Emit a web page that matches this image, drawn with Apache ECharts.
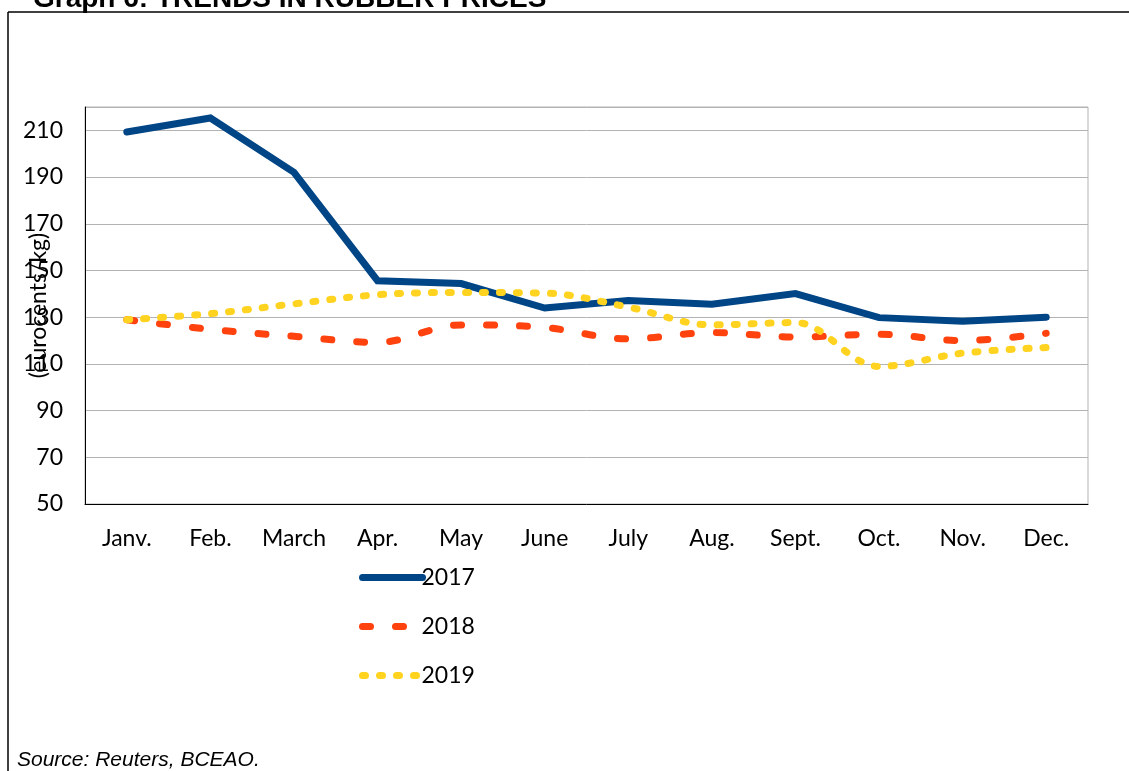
<!DOCTYPE html>
<html>
<head>
<meta charset="utf-8">
<script src="https://cdn.jsdelivr.net/npm/echarts@6/dist/echarts.min.js"></script>
<style>
html,body{margin:0;padding:0;background:#fff;}
#chart{width:1129px;height:771px;}
</style>
</head>
<body>
<div id="chart"></div>
<script>
const categories = ['Janv.', 'Feb.', 'March', 'Apr.', 'May', 'June', 'July', 'Aug.', 'Sept.', 'Oct.', 'Nov.', 'Dec.'];
const values2017 = [209.3, 215.3, 192.0, 145.6, 144.4, 133.9, 137.1, 135.5, 140.1, 129.8, 128.3, 130.0];
const values2018 = [128.9, 124.8, 121.8, 119.2, 126.7, 125.6, 120.7, 123.4, 121.5, 122.7, 120.0, 123.1];
const values2019 = [128.9, 131.5, 135.7, 139.6, 140.6, 140.3, 134.3, 126.7, 127.7, 108.9, 114.6, 117.0];
const seriesNames = ['2017', '2018', '2019'];
const titleText = 'Graph 6: TRENDS IN RUBBER PRICES';
const sourceText = 'Source: Reuters, BCEAO.';
const yAxisName = '(eurocents/kg)';

const chart = echarts.init(document.getElementById('chart'), null, {renderer: 'canvas'});
const font = 'Lato';
chart.setOption({
  animation: false,
  backgroundColor: '#ffffff',
  grid: {left: 85, right: 41, top: 107, bottom: 267, show: true, borderColor: '#b3b3b3', borderWidth: 1,
    containLabel: false, outerBoundsMode: 'none'},
  legend: {
    orient: 'vertical', left: 354, top: 561,
    itemWidth: 60, itemHeight: 14, itemGap: 26,
    data: seriesNames,
    itemStyle: {opacity: 0},
    lineStyle: {width: 7, cap: 'round'},
    textStyle: {fontFamily: font, fontSize: 23, color: '#000', padding: [0,0,0,-6]}
  },
  xAxis: {
    type: 'category', data: categories, boundaryGap: true,
    axisLine: {lineStyle: {color: '#000', width: 1}},
    axisTick: {show: false},
    axisLabel: {fontFamily: font, fontSize: 23, color: '#000', margin: 23}
  },
  yAxis: {
    type: 'value', min: 50, max: 220, interval: 20,
    name: yAxisName, nameLocation: 'middle', nameRotate: 90, nameGap: 35, nameMoveOverlap: false,
    nameTextStyle: {fontFamily: font, fontSize: 23, color: '#000'},
    axisLine: {show: true, lineStyle: {color: '#000', width: 1}},
    axisTick: {show: false},
    splitLine: {lineStyle: {color: '#b3b3b3', width: 1}},
    axisLabel: {fontFamily: font, fontSize: 23, color: '#000', margin: 22,
      formatter: function (v) { return v > 215 ? '' : String(v); }}
  },
  series: [
    {name: seriesNames[0], type: 'line', data: values2017, symbol: 'none', smooth: false,
      lineStyle: {color: '#004586', width: 7, cap: 'round', join: 'miter'}, itemStyle: {color: '#004586'}},
    {name: seriesNames[1], type: 'line', data: values2018, symbol: 'none', smooth: 0.35,
      lineStyle: {color: '#ff420e', width: 7, type: [8, 25], cap: 'round'}, itemStyle: {color: '#ff420e'}},
    {name: seriesNames[2], type: 'line', data: values2019, symbol: 'none', smooth: 0.35,
      lineStyle: {color: '#ffd320', width: 7, type: [3, 14], cap: 'round'}, itemStyle: {color: '#ffd320'}}
  ],
  graphic: [
    {type: 'line', shape: {x1: 8, y1: 12, x2: 1129, y2: 12}, style: {stroke: '#000', lineWidth: 1.5}},
    {type: 'line', shape: {x1: 8, y1: 12, x2: 8, y2: 771}, style: {stroke: '#000', lineWidth: 1.5}},
    {type: 'text', left: 33, top: -15, style: {text: titleText, font: 'bold 28px "Liberation Sans", Arial', fill: '#000'}},
    {type: 'text', left: 17, top: 750, style: {text: sourceText, font: 'italic 21px "Liberation Sans", Arial', fill: '#000'}}
  ]
});
</script>
</body>
</html>
